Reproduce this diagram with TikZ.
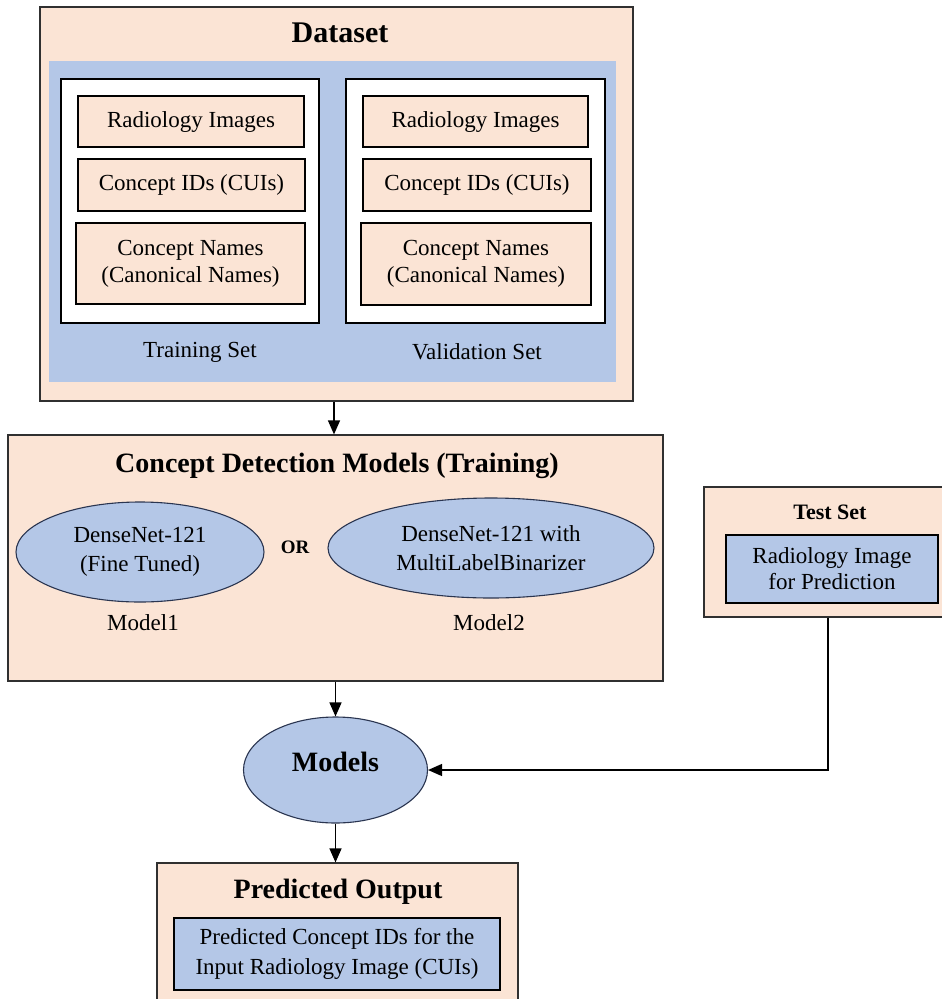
\documentclass[tikz,border=0pt]{standalone}
\usepackage{fontspec}
\setmainfont{Liberation Serif}
\usetikzlibrary{arrows.meta,shapes.geometric,calc}
\definecolor{peach}{HTML}{FBE4D5}
\definecolor{lblue}{HTML}{B4C7E7}
\definecolor{edge}{HTML}{303030}
\definecolor{navy}{HTML}{2A3550}
\tikzset{
  outerbox/.style={draw=edge,fill=peach,line width=1.2pt,inner sep=0pt},
  whitebox/.style={draw=black,fill=white,line width=1.2pt,inner sep=0pt},
  itembox/.style={draw=black,fill=peach,line width=1.1pt,inner sep=0pt,align=center,font=\fontsize{23}{27}\selectfont},
  blueitem/.style={draw=black,fill=lblue,line width=1.1pt,inner sep=0pt,align=center,font=\fontsize{23}{28}\selectfont},
  modelell/.style={ellipse,draw=navy,fill=lblue,line width=1.1pt,inner sep=0pt,align=center,font=\fontsize{23}{29}\selectfont},
  bodytext/.style={inner sep=0pt,font=\fontsize{23}{27}\selectfont},
  titletext/.style={inner sep=0pt,font=\fontsize{28}{30}\selectfont\bfseries},
  flow/.style={draw=black,line width=1.3pt,-{Triangle[length=14pt,width=12pt]}},
  plainline/.style={draw=black,line width=1.3pt}
}
\begin{document}
\begin{tikzpicture}[x=1pt,y=-1pt]
\useasboundingbox (0,0) rectangle (942,999);
\clip (0,0) rectangle (942,999);
\fill[white] (0,0) rectangle (942,999);

% Dataset
\node[outerbox,minimum width=593pt,minimum height=394pt] (dataset) at (336.5,204) {};
\node[titletext,font=\fontsize{30}{32}\selectfont\bfseries] (dstitle) at (340,33) {Dataset};
\node[fill=lblue,inner sep=0pt,minimum width=567pt,minimum height=321pt] (blue) at (332.5,221.5) {};
\node[whitebox,minimum width=258pt,minimum height=244pt] (train) at (190,201) {};
\node[whitebox,minimum width=259pt,minimum height=244pt] (val) at (475.5,201) {};
\node[itembox,minimum width=226pt,minimum height=51pt] (tr1) at (191,121.5) {Radiology Images};
\node[itembox,minimum width=227pt,minimum height=52pt] (tr2) at (191.5,185) {Concept IDs (CUIs)};
\node[itembox,minimum width=229pt,minimum height=81pt] (tr3) at (190.5,263.5) {Concept Names\\(Canonical Names)};
\node[itembox,minimum width=225pt,minimum height=51pt] (va1) at (475.5,121.5) {Radiology Images};
\node[itembox,minimum width=228pt,minimum height=52pt] (va2) at (477,185) {Concept IDs (CUIs)};
\node[itembox,minimum width=230pt,minimum height=82pt] (va3) at (476,264) {Concept Names\\(Canonical Names)};
\node[bodytext] (trlab) at (200,352) {Training Set};
\node[bodytext] (valab) at (477,352) {Validation Set};

% Concept detection models
\node[outerbox,minimum width=655pt,minimum height=246pt] (cdm) at (335.5,558) {};
\node[titletext] (cdmtitle) at (337,466) {Concept Detection Models (Training)};
\node[modelell,minimum width=248pt,minimum height=100pt] (m1) at (140,552) {DenseNet-121\\(Fine Tuned)};
\node[inner sep=0pt,font=\fontsize{19}{21}\selectfont\bfseries] (or) at (295,547) {OR};
\node[modelell,minimum width=326pt,minimum height=100pt] (m2) at (491,548) {DenseNet-121 with\\MultiLabelBinarizer};
\node[bodytext] (m1lab) at (143,623) {Model1};
\node[bodytext] (m2lab) at (489,623) {Model2};

% Test set
\node[outerbox,minimum width=248pt,minimum height=130pt] (test) at (828,552) {};
\node[inner sep=0pt,font=\fontsize{22}{26}\selectfont\bfseries] (testtitle) at (830,512) {Test Set};
\node[blueitem,minimum width=212pt,minimum height=68pt,font=\fontsize{23}{26}\selectfont] (testimg) at (832,569) {Radiology Image\\for Prediction};

% Models
\node[modelell,minimum width=184pt,minimum height=106pt] (models) at (335.5,770) {};
\node[titletext] (modelstext) at (335.5,762) {Models};

% Predicted output
\node[outerbox,minimum width=361pt,minimum height=150pt] (pred) at (337.5,938) {};
\node[titletext] (predtitle) at (338,892) {Predicted Output};
\node[blueitem,minimum width=326pt,minimum height=72pt,font=\fontsize{23}{30}\selectfont] (predbox) at (337,954) {Predicted Concept IDs for the\\Input Radiology Image (CUIs)};

% Connectors
\draw[flow] (dataset.south -| 334,0) -- (cdm.north -| 334,0);
\draw[flow] (cdm.south -| models.north) -- (models.north);
\draw[flow] (models.south) -- (pred.north -| models.south);
\draw[flow] (test.south) |- (models.east);
\end{tikzpicture}
\end{document}
